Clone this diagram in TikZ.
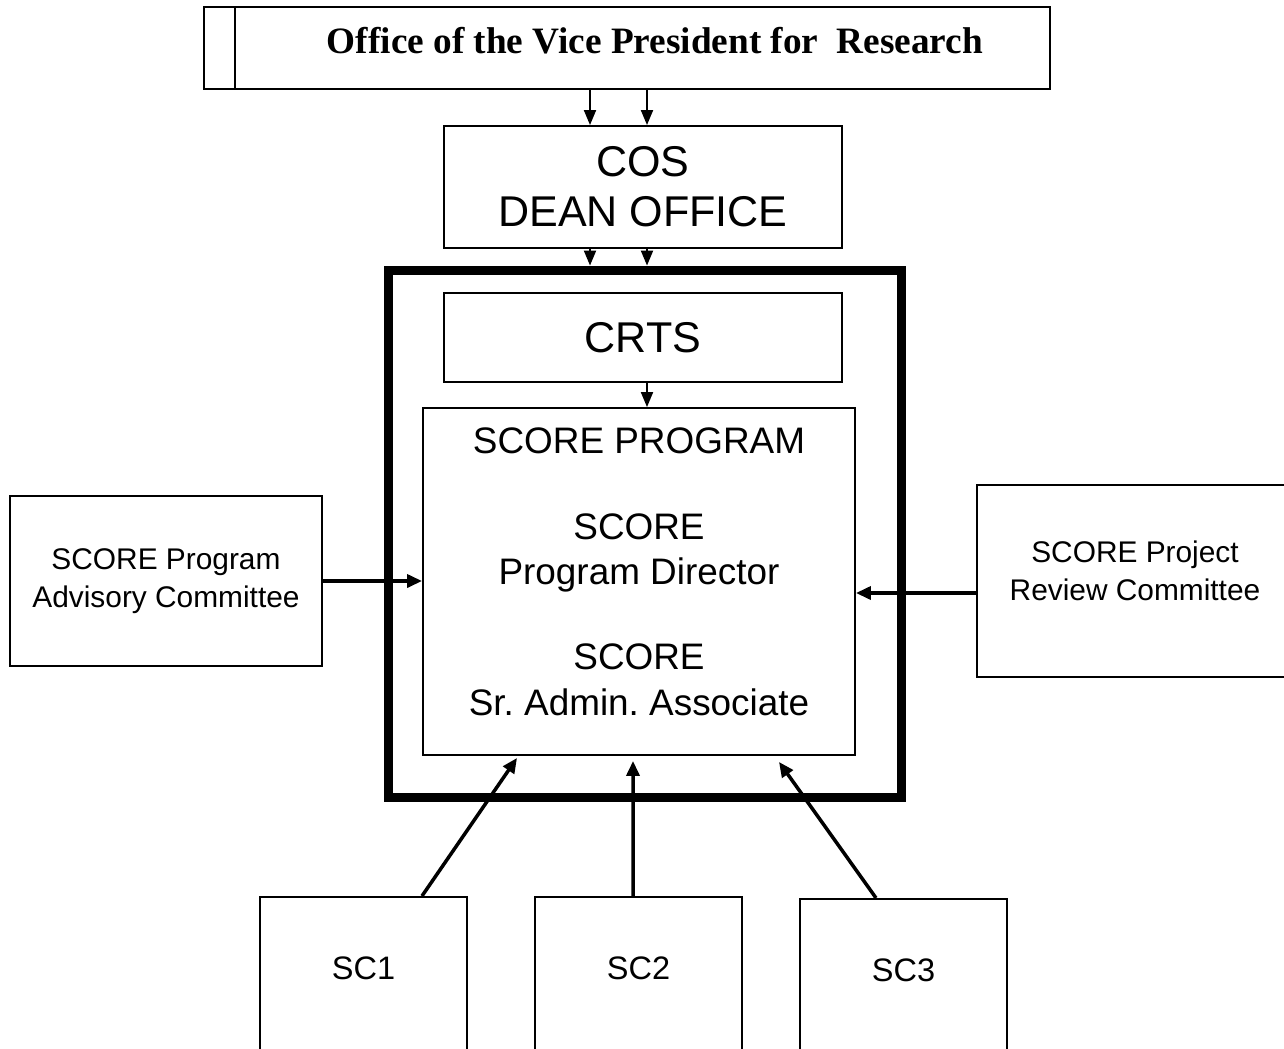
\documentclass[tikz,border=0pt]{standalone}
\usepackage{fontspec}
\setmainfont{Liberation Sans}
\newfontfamily\titleFont{Liberation Serif}
\usetikzlibrary{arrows.meta, positioning}
\tikzset{%
	org box/.style={
		draw,
		line width=1.1pt,
		inner sep=0pt
	},
	org arrow/.style={
		-{Triangle[length=0.3cm, width=0.24cm]},
		line width=1.1pt
	},
	heavy arrow/.style={
		-{Triangle[length=0.3cm, width=0.26cm]},
		line width=2pt
	},
}

\begin{document}
\begin{tikzpicture}[x=0.02cm, y=-0.02cm]
	% Define the font sizes used in the boxes
	\newcommand{\headSize}{\fontsize{24.5}{28.5}\selectfont}
	\newcommand{\midSize}{\fontsize{21}{26}\selectfont}
	\newcommand{\smallSize}{\fontsize{17}{21.5}\selectfont}
	\newcommand{\labelSize}{\fontsize{18.5}{22}\selectfont}
	
	\useasboundingbox (0,0) rectangle (1284,1048);
	
	% Top of the chart
	\node[org box, minimum width=16.92cm, minimum height=1.64cm] (ovpr) at (627,48) {};
	\draw[line width=1.1pt] ([xshift=0.64cm]ovpr.north west) -- ([xshift=0.64cm]ovpr.south west);
	\node[font=\titleFont\bfseries\fontsize{21.2}{25}\selectfont] (ovpr text) at (655,41) {Office of the Vice President for\ \ Research};
	\node[org box, minimum width=7.96cm, minimum height=2.44cm, font=\headSize, align=center] (cos) at (643,187) {COS\\DEAN OFFICE};
	
	% Thick frame round CRTS and the SCORE program
	\node[draw, line width=0.18cm, minimum width=10.28cm, minimum height=10.56cm, inner sep=0pt] (frame) at (645,534) {};
	\node[org box, minimum width=7.96cm, minimum height=1.78cm, font=\headSize] (crts) at (643,337.5) {CRTS};
	\node[org box, minimum width=8.64cm, minimum height=6.94cm] (score) at (639,581.5) {};
	\node[font=\midSize] (score title) at (639,441) {SCORE PROGRAM};
	\node[font=\midSize, align=center] (director) at (639,553) {SCORE\\Program Director};
	\node[font=\midSize, align=center] (associate) at (639,680) {SCORE\\Sr.\ Admin.\ Associate};
	
	% Committees on both sides
	\node[org box, minimum width=6.24cm, minimum height=3.4cm, font=\smallSize, align=center] (advisory) at (166,581) {SCORE Program\\Advisory Committee};
	\node[org box, minimum width=6.32cm, minimum height=3.84cm] (review) at (1135,581) {};
	\node[font=\smallSize, align=center] (review text) at (1135,571) {SCORE Project\\Review Committee};
	
	% Subcommittees along the bottom
	\foreach \lbl/\x/\y [count=\i] in {SC1/363.5/896, SC2/638.5/896, SC3/903.5/898} {
		\node[org box, anchor=north, minimum width=4.14cm, minimum height=3.6cm] (sc\i) at (\x,\y) {};
		\node[font=\labelSize] (sc\i text) at (\x,\y+72) {\lbl};
	}
	
	% Arrows down the middle
	\coordinate (lane1) at (590,0);
	\coordinate (lane2) at (647,0);
	\foreach \lane in {lane1,lane2} {
		\draw[org arrow] (ovpr.south -| \lane) -- (cos.north -| \lane);
		\draw[org arrow] (cos.south -| \lane) -- (frame.north -| \lane);
	}
	\draw[org arrow] (crts.south -| lane2) -- (score.north -| lane2);
	
	% Arrows into the SCORE program
	\draw[heavy arrow] (advisory.east) -- (advisory.east -| score.west);
	\draw[heavy arrow] ([yshift=-0.24cm]review.west) -- ([yshift=-0.24cm]review.west -| score.east);
	\draw[heavy arrow] ([xshift=1.17cm]sc1.north) -- ([xshift=-2.44cm, yshift=-0.04cm]score.south);
	\draw[heavy arrow] ([xshift=-0.11cm]sc2.north) -- ([xshift=-0.12cm, yshift=-0.1cm]score.south);
	\draw[heavy arrow] ([xshift=-0.55cm]sc3.north) -- ([xshift=2.8cm, yshift=-0.12cm]score.south);
\end{tikzpicture}
\end{document}
